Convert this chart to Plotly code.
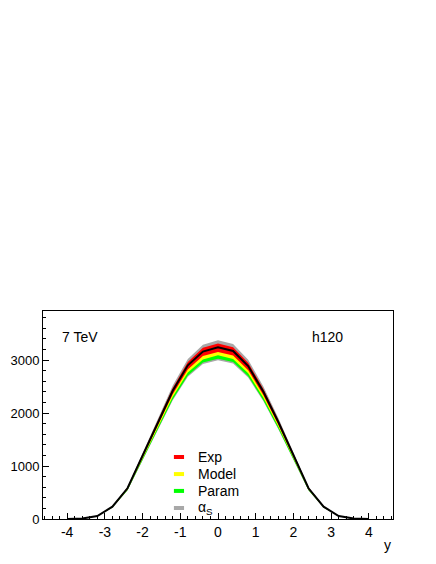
import plotly.graph_objs as go

# rapidity points and central prediction (black line)
rap = [-4.0, -3.6, -3.2, -2.8, -2.4, -2.0, -1.6, -1.2, -0.8, -0.4, 0.0,
       0.4, 0.8, 1.2, 1.6, 2.0, 2.4, 2.8, 3.2, 3.6, 4.0]
central = [0, 8, 57, 232, 580, 1190, 1810, 2420, 2900, 3160, 3240,
           3170, 2885, 2405, 1830, 1200, 580, 232, 57, 8, 0]

# relative band edges (up, down) for each uncertainty source
alphas_up, alphas_dn = 0.041, 0.075
exp_up, exp_dn = 0.022, 0.027
model_up, model_dn = 0.010, 0.047
param_up, param_dn = 0.0, 0.066

x_ticks = [-4, -3, -2, -1, 0, 1, 2, 3, 4]
x_ticktext = ['-4', '-3', '-2', '-1', '0', '1', '2', '3', '4']
y_ticks = [0, 1000, 2000, 3000]

legend_names = ['Exp', 'Model', 'Param', 'α<sub>S</sub>']
legend_colors = ['#ff0000', '#ffff00', '#00ff00', '#a8a8a8']

font = 'Liberation Sans, Arial, Helvetica, sans-serif'


def band(up, dn, color):
    hi = [c * (1 + up) for c in central]
    lo = [c * (1 - dn) for c in central]
    return go.Scatter(x=rap + rap[::-1], y=hi + lo[::-1], fill='toself',
                      fillcolor=color, mode='lines', line=dict(width=0),
                      hoverinfo='skip', showlegend=False)


data = [
    band(alphas_up, alphas_dn, '#a8a8a8'),
    band(param_up, param_dn, '#00ff00'),
    band(model_up, model_dn, '#ffff00'),
    band(exp_up, exp_dn, '#ff0000'),
    go.Scatter(x=rap, y=central, mode='lines',
               line=dict(color='black', width=2), showlegend=False),
]

fig = go.Figure(data=data)

# hand-made legend like the ROOT TLegend
leg_y = [0.298, 0.216, 0.135, 0.053]
for name, col, yy in zip(legend_names, legend_colors, leg_y):
    fig.add_shape(type='line', xref='paper', yref='paper',
                  x0=0.374, x1=0.403, y0=yy, y1=yy,
                  line=dict(color=col, width=4))
    fig.add_annotation(x=0.437, y=yy, xref='paper', yref='paper',
                       text=name, showarrow=False, xanchor='left',
                       yanchor='middle', font=dict(size=14, color='black'))

fig.add_annotation(x=0.049, y=0.875, xref='paper', yref='paper', text='7 TeV',
                   showarrow=False, xanchor='left', yanchor='middle',
                   font=dict(size=14, color='black'))
fig.add_annotation(x=0.763, y=0.875, xref='paper', yref='paper', text='h120',
                   showarrow=False, xanchor='left', yanchor='middle',
                   font=dict(size=14, color='black'))
fig.add_annotation(x=1.0, y=-0.125, xref='paper', yref='paper', text='y',
                   showarrow=False, xanchor='right', yanchor='middle',
                   font=dict(size=14, color='black'))

# page body adds 8px, so margins are shifted by that much
fig.update_layout(
    width=436, height=564,
    margin=dict(l=35, r=51, t=303, b=53),
    paper_bgcolor='white', plot_bgcolor='white',
    font=dict(family=font, size=14, color='black'),
    showlegend=False,
)
fig.update_xaxes(range=[-4.64, 4.64], tickvals=x_ticks, ticktext=x_ticktext,
                 ticks='inside', ticklen=6, tickcolor='black',
                 minor=dict(dtick=0.2, ticks='inside', ticklen=3, tickcolor='black'),
                 showline=True, linecolor='black', linewidth=1, mirror=True,
                 showgrid=False, zeroline=False, tickfont=dict(size=14),
                 automargin=False)
fig.update_yaxes(range=[0, 3925], tickvals=y_ticks,
                 ticks='inside', ticklen=6, tickcolor='black',
                 minor=dict(dtick=200, ticks='inside', ticklen=3, tickcolor='black'),
                 showline=True, linecolor='black', linewidth=1, mirror=True,
                 showgrid=False, zeroline=False, tickfont=dict(size=13),
                 ticklabelstandoff=0, automargin=False)

fig.write_html('out.html')
